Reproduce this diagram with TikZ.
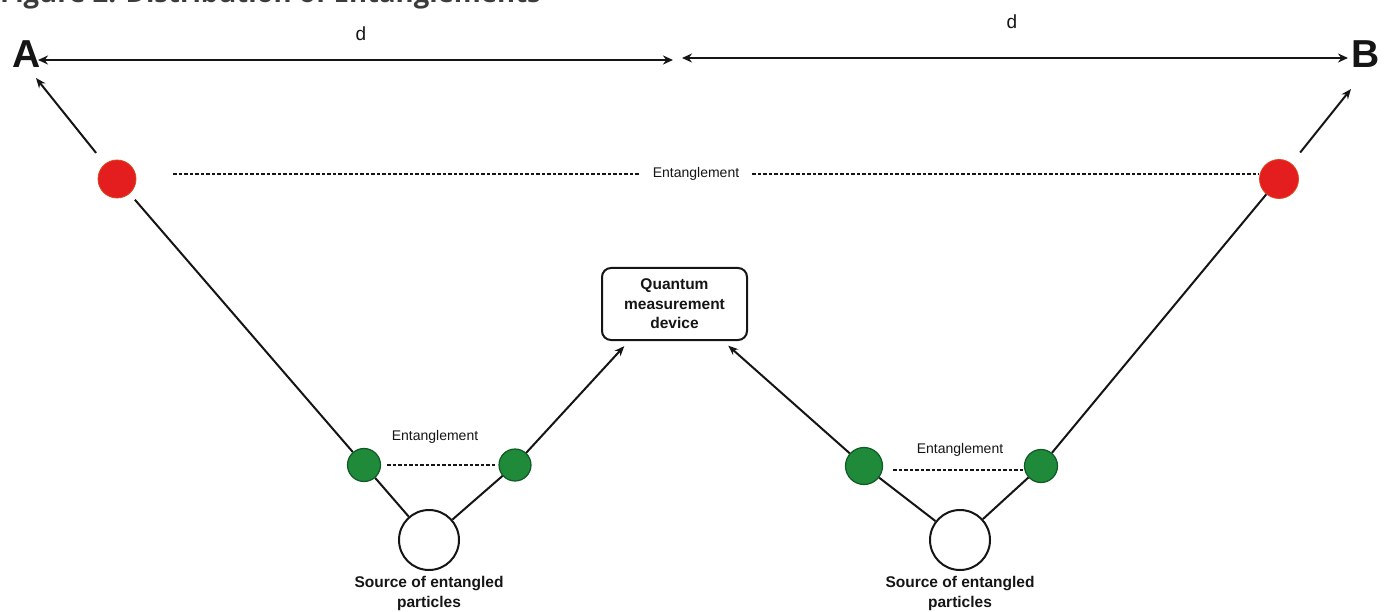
\documentclass[tikz,border=0pt]{standalone}
\usepackage{fontspec}
\setmainfont{Liberation Sans}
\newfontfamily\titlefont{Open Sans}
\usetikzlibrary{arrows.meta}
\definecolor{dotred}{HTML}{E41E1E}
\definecolor{dotredb}{HTML}{D9461E}
\definecolor{dotgreen}{HTML}{1E8A3A}
\definecolor{dotgreenb}{HTML}{0F5A25}
\definecolor{titlegray}{HTML}{3C3C3C}
\definecolor{ink}{HTML}{151515}
\tikzset{
  reddot/.style={circle, fill=dotred, draw=dotredb, line width=0.8pt, minimum size=#1, inner sep=0},
  greendot/.style={circle, fill=dotgreen, draw=dotgreenb, line width=1.2pt, minimum size=#1, inner sep=0},
  srcnode/.style={circle, draw=ink, line width=2pt, minimum size=60, inner sep=0},
  conn/.style={draw=ink, line width=2pt},
  arr/.style={conn, -{Stealth[length=10pt,width=8pt]}},
  dimline/.style={draw=ink, line width=2.6pt, {Stealth[length=10pt,width=9pt]}-{Stealth[length=10pt,width=9pt]}},
  entline/.style={draw=ink, line width=1.5pt, dash pattern=on 3.5pt off 2pt},
  entlabel/.style={font=\fontsize{14}{16}\selectfont, text=ink, inner sep=0},
  boldlabel/.style={font=\bfseries\fontsize{15.5}{19.5}\selectfont, text=ink, align=center, inner sep=0},
  endlabel/.style={font=\bfseries\fontsize{39}{40}\selectfont, text=ink, inner sep=0},
  dlabel/.style={font=\fontsize{19}{20}\selectfont, text=ink, inner sep=0},
}
\begin{document}
\begin{tikzpicture}[x=1pt,y=-1pt]
\useasboundingbox (0,0) rectangle (1386,612);
\begin{scope}
\clip (0,0) rectangle (1386,612);
\node[anchor=base west, inner sep=0, text=titlegray, font=\titlefont\bfseries\fontsize{27.5}{30}\selectfont] (title) at (0,3) {Figure 2: Distribution of Entanglements};
\end{scope}

% end labels
\node[endlabel] (A) at (27,54) {A};
\node[endlabel] (B) at (1366,54) {B};

% distance arrows
\coordinate (d1l) at (38,60);
\coordinate (d1r) at (673,60);
\coordinate (d2l) at (682,58);
\coordinate (d2r) at (1348,58);
\draw[dimline] (d1l) -- (d1r);
\draw[dimline] (d2l) -- (d2r);
\node[dlabel] (dl) at (361,34) {d};
\node[dlabel] (dr) at (1012,22) {d};

% particles
\node[reddot=38] (ra) at (117,179) {};
\node[reddot=39] (rb) at (1279,179) {};
\node[greendot=33] (g1) at (364,465) {};
\node[greendot=32] (g2) at (515,465) {};
\node[greendot=37] (g3) at (864,466) {};
\node[greendot=33] (g4) at (1041,466) {};
\node[srcnode] (s1) at (429,540) {};
\node[srcnode] (s2) at (960,540) {};

% measurement device
\node[boldlabel, draw=ink, line width=2pt, rounded corners=9pt, minimum width=145pt, minimum height=72pt] (q) at (674.5,304) {Quantum\\measurement\\device};

% arrow tips
\coordinate (atip) at (36,78);
\coordinate (btip) at (1351,89);

% connectors
\draw[arr, shorten <=14pt] (ra) -- (atip);
\draw[arr, shorten <=14pt] (rb) -- (btip);
\draw[conn, shorten <=8pt] (ra) -- (g1);
\draw[conn] (g4) -- (rb);
\draw[conn] (g1) -- (s1);
\draw[conn] (s1) -- (g2);
\draw[conn] (g3) -- (s2);
\draw[conn] (s2) -- (g4);
\draw[arr, shorten >=7pt] (g2) -- ([xshift=28pt]q.south west);
\draw[arr, shorten >=7pt] (g3) -- ([xshift=-25pt]q.south east);

% entanglement lines
\node[entlabel] (e0) at (696,174) {Entanglement};
\node[entlabel] (e1) at (435,437) {Entanglement};
\node[entlabel] (e2) at (960,450) {Entanglement};
\draw[entline] ([xshift=37pt]ra.east |- e0) -- ([xshift=-12pt]e0.west);
\draw[entline] ([xshift=13pt]e0.east) -- (rb.west |- e0);
\draw[entline] ([xshift=6pt]g1.east) -- ([xshift=-2pt]g2.west);
\draw[entline] ([xshift=10pt]g3.east |- 0,470) -- ([xshift=-1pt]g4.west |- 0,470);

% source labels
\node[boldlabel, font=\bfseries\fontsize{15.5}{20}\selectfont] (sl1) at (429,593) {Source of entangled\\particles};
\node[boldlabel, font=\bfseries\fontsize{15.5}{20}\selectfont] (sl2) at (960,593) {Source of entangled\\particles};
\end{tikzpicture}
\end{document}
